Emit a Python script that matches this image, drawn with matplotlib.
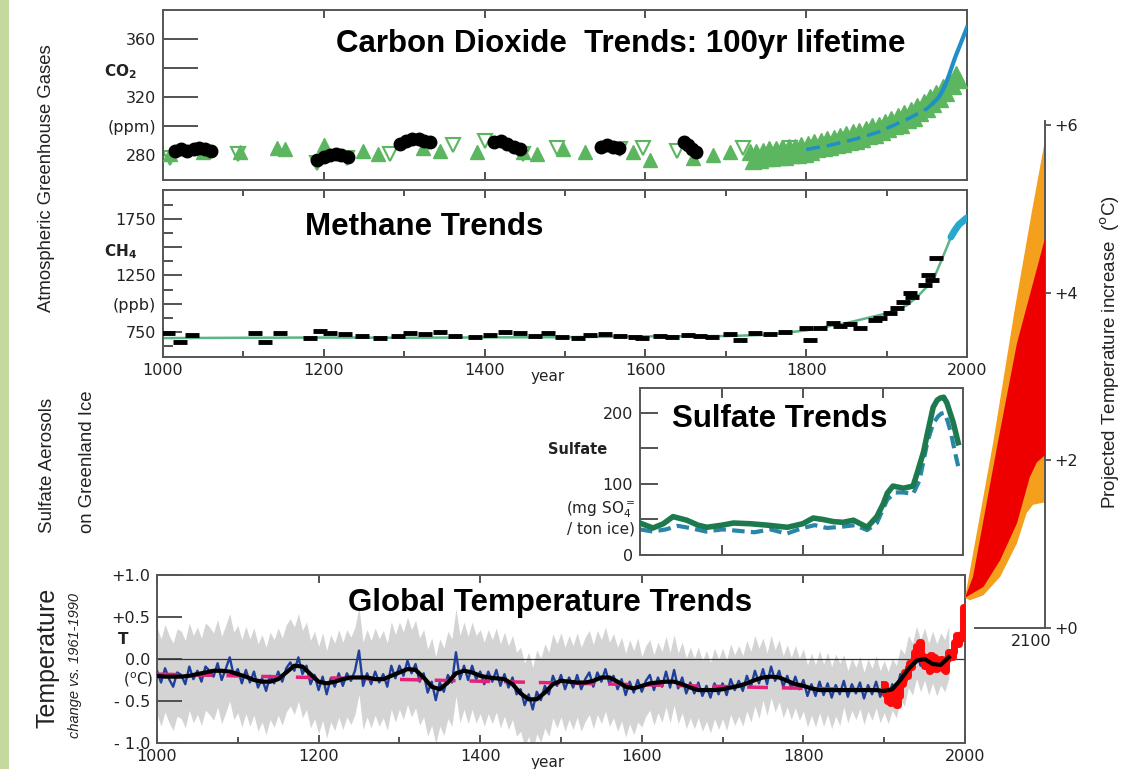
import numpy as np
import matplotlib
matplotlib.use("Agg")
import matplotlib.pyplot as plt
from matplotlib.patches import Rectangle

W, H = 1124, 769

# ---------------- data ----------------
# CO2 (ppm)
co2_tri_years = [1009, 1050, 1096, 1142, 1152, 1200, 1249, 1268, 1324, 1345, 1391, 1448,
                 1465, 1498, 1525, 1585, 1606, 1659, 1684, 1705]
co2_tri_values = [281, 282, 282, 285, 284, 287, 283, 281, 285, 283, 282, 282,
                  281, 284, 282, 282, 277, 278, 280, 282]
co2_open_years = [1009, 1093, 1191, 1229, 1282, 1361, 1400, 1448, 1490, 1568, 1597,
                  1639, 1721, 1780]
co2_open_values = [278, 281, 275, 278, 281, 287, 290, 281, 285, 284, 285,
                   283, 285, 285]
co2_core_years = [1015, 1022, 1030, 1038, 1045, 1052, 1060,
                  1192, 1200, 1208, 1215, 1222, 1230,
                  1295, 1302, 1310, 1318, 1325, 1332,
                  1412, 1420, 1428, 1436, 1444,
                  1545, 1552, 1560, 1567,
                  1648, 1653, 1658, 1663]
co2_core_values = [283, 284, 283, 284, 285, 284, 283,
                   277, 279, 280, 281, 280, 279,
                   288, 290, 291, 291, 290, 289,
                   289, 290, 288, 286, 284,
                   286, 287, 286, 285,
                   289, 287, 284, 282]
co2_band_years = list(range(1730, 1991, 4))
co2_band_values = [282, 276, 282, 277, 283, 278, 284, 278, 284, 279, 285, 279, 286, 280,
                   286, 280, 287, 281, 288, 282, 289, 284, 290, 285, 291, 286, 292, 287,
                   293, 288, 295, 289, 296, 290, 297, 291, 298, 293, 300, 294, 301, 296,
                   303, 298, 305, 300, 307, 301, 309, 304, 311, 306, 314, 309, 317, 312,
                   320, 315, 323, 319, 327, 323, 332, 328, 336, 332]
co2_firn_years = [1800, 1830, 1860, 1890, 1910, 1930, 1950, 1958]
co2_firn_values = [284, 287, 291, 296, 301, 306, 312, 316]
co2_mlo_years = [1958, 1965, 1970, 1975, 1980, 1985, 1990, 1995, 2000]
co2_mlo_values = [316, 320, 325, 331, 339, 347, 354, 361, 368]

# CH4 (ppb)
ch4_core_years = [1006, 1021, 1036, 1114, 1127, 1146, 1183, 1195, 1208, 1226, 1248, 1270,
                  1292, 1307, 1326, 1345, 1363, 1388, 1407, 1425, 1444, 1463, 1479, 1496,
                  1516, 1531, 1550, 1568, 1587, 1596, 1618, 1633, 1653, 1668, 1683, 1705,
                  1718, 1736, 1755, 1774, 1800, 1805, 1817, 1833, 1842, 1855, 1867, 1886,
                  1892, 1904, 1913, 1920, 1929, 1932, 1948, 1952, 1956, 1962]
ch4_core_values = [740, 660, 720, 740, 660, 740, 700, 760, 740, 730, 715, 697,
                   715, 740, 730, 750, 715, 705, 723, 750, 740, 715, 740, 705,
                   697, 723, 730, 715, 705, 697, 715, 705, 723, 715, 705, 730,
                   680, 740, 730, 750, 790, 680, 785, 830, 800, 820, 785, 855,
                   875, 918, 960, 1015, 1095, 1060, 1165, 1255, 1210, 1400]
ch4_fit_years = [1000, 1100, 1200, 1300, 1400, 1500, 1600, 1700, 1750, 1800, 1850, 1900,
                 1925, 1938, 1950, 1958, 1965, 1975, 1983, 1990, 2000]
ch4_fit_values = [697, 700, 702, 700, 703, 705, 712, 715, 725, 765, 830, 915,
                  985, 1060, 1150, 1210, 1330, 1500, 1640, 1700, 1760]
ch4_air_years = [1980, 1985, 1990, 1995, 2000]
ch4_air_values = [1590, 1650, 1700, 1730, 1760]

# Sulfate (mg SO4 / ton ice)
sulf_a_years = [1598, 1614, 1627, 1639, 1656, 1670, 1681, 1700, 1714, 1735, 1756, 1781,
                1800, 1813, 1825, 1838, 1850, 1863, 1880, 1892, 1900, 1905, 1912, 1925,
                1937, 1942, 1950, 1955, 1962, 1967, 1971, 1975, 1979, 1983, 1987, 1993]
sulf_a_values = [45, 38, 44, 54, 49, 42, 39, 42, 45, 44, 42, 39,
                 44, 52, 50, 47, 46, 49, 39, 54, 72, 87, 97, 94,
                 97, 115, 145, 172, 208, 218, 221, 222, 214, 200, 186, 158]
sulf_b_years = [1598, 1614, 1630, 1645, 1660, 1680, 1700, 1720, 1740, 1760, 1780, 1800,
                1815, 1830, 1850, 1865, 1880, 1892, 1905, 1915, 1925, 1937, 1945, 1955,
                1962, 1968, 1972, 1976, 1980, 1984, 1988, 1993]
sulf_b_values = [36, 33, 36, 41, 38, 33, 36, 34, 32, 36, 30, 38,
                 42, 38, 40, 42, 35, 45, 78, 88, 88, 86, 105, 160,
                 185, 195, 199, 200, 188, 172, 150, 125]

# Temperature change vs. 1961-1990 (deg C)
temp_years = np.arange(1000, 1981, 5)
temp_values = [
    -0.14, -0.28, -0.11, -0.24, -0.33, -0.16, -0.19, -0.30, -0.09, -0.24,
    -0.14, -0.27, -0.09, -0.14, -0.21, -0.05, -0.25, -0.12, 0.02, -0.20,
    -0.12, -0.29, -0.13, -0.28, -0.15, -0.34, -0.23, -0.38, -0.20, -0.29,
    -0.15, -0.27, -0.11, -0.04, -0.14, 0.02, -0.18, -0.08, -0.30, -0.19,
    -0.37, -0.21, -0.42, -0.23, -0.33, -0.17, -0.32, -0.17, -0.26, -0.14,
    0.10, -0.32, -0.17, -0.30, -0.15, -0.28, -0.18, -0.33, -0.08, -0.23,
    -0.08, -0.20, -0.02, -0.17, -0.06, -0.27, -0.17, -0.40, -0.27, -0.49,
    -0.28, -0.39, -0.19, -0.28, 0.08, -0.24, -0.08, -0.25, -0.08, -0.24,
    -0.15, -0.30, -0.15, -0.27, -0.13, -0.32, -0.18, -0.34, -0.22, -0.42,
    -0.36, -0.55, -0.42, -0.60, -0.39, -0.49, -0.32, -0.42, -0.20, -0.32,
    -0.19, -0.36, -0.22, -0.34, -0.19, -0.36, -0.24, -0.16, -0.33, -0.16,
    -0.27, -0.12, -0.30, -0.20, -0.36, -0.24, -0.43, -0.27, -0.40, -0.25,
    -0.39, -0.26, -0.19, -0.37, -0.22, -0.33, -0.15, -0.34, -0.13, -0.35,
    -0.22, -0.41, -0.28, -0.41, -0.28, -0.44, -0.32, -0.46, -0.29, -0.42,
    -0.29, -0.43, -0.24, -0.37, -0.26, -0.38, -0.20, -0.33, -0.14, -0.29,
    -0.12, -0.30, -0.09, -0.26, -0.14, -0.33, -0.20, -0.35, -0.21, -0.36,
    -0.25, -0.44, -0.30, -0.44, -0.27, -0.43, -0.29, -0.46, -0.31, -0.42,
    -0.26, -0.45, -0.30, -0.41, -0.28, -0.47, -0.31, -0.42, -0.27, -0.45,
    -0.33, -0.46, -0.30, -0.39, -0.18, -0.25, -0.03, -0.12, 0.08, -0.08,
    0.06, -0.12, 0.02, -0.13, 0.00, -0.08, 0.08]
# uncertainty half-width, constant within each reconstruction period
band_period_start = [1000, 1400, 1600, 1750, 1850]
band_halfwidth = [0.52, 0.50, 0.42, 0.37, 0.31]
smooth_years = np.arange(1000, 1981, 10)
smooth_values = [
    -0.20, -0.21, -0.21, -0.21, -0.20, -0.18, -0.16, -0.14, -0.14, -0.15,
    -0.18, -0.21, -0.25, -0.27, -0.27, -0.24, -0.16, -0.08, -0.09, -0.18,
    -0.27, -0.29, -0.27, -0.24, -0.22, -0.22, -0.22, -0.24, -0.24, -0.20,
    -0.16, -0.12, -0.13, -0.22, -0.33, -0.36, -0.28, -0.17, -0.14, -0.16,
    -0.20, -0.22, -0.23, -0.24, -0.30, -0.41, -0.48, -0.48, -0.40, -0.30,
    -0.26, -0.27, -0.28, -0.28, -0.26, -0.22, -0.22, -0.27, -0.33, -0.35,
    -0.32, -0.29, -0.28, -0.27, -0.27, -0.30, -0.34, -0.37, -0.37, -0.37,
    -0.36, -0.34, -0.32, -0.29, -0.25, -0.22, -0.21, -0.22, -0.26, -0.30,
    -0.32, -0.35, -0.37, -0.37, -0.37, -0.37, -0.37, -0.37, -0.37, -0.37,
    -0.38, -0.36, -0.25, -0.12, -0.02, 0.00, -0.06, -0.07, 0.02]
trend_years = [1000, 1900]
trend_values = [-0.18, -0.37]
instr_years = np.arange(1900, 2001, 2)
instr_values = [-0.30, -0.42, -0.50, -0.38, -0.52, -0.50, -0.46, -0.33, -0.55, -0.44,
                -0.30, -0.30, -0.25, -0.15, -0.20, -0.10, -0.05, -0.10, -0.02, 0.08,
                0.15, 0.10, 0.20, 0.02, -0.02, -0.08, 0.02, -0.10, -0.14, 0.05,
                0.00, 0.02, -0.12, -0.05, -0.08, 0.00, -0.06, -0.12, -0.14, 0.00,
                0.08, 0.05, 0.02, 0.08, 0.20, 0.28, 0.18, 0.24, 0.30, 0.62, 0.48]

# Projected temperature increase to 2100 (deg C above the +0 baseline)
proj_hi_years = [2000, 2035, 2062, 2084, 2100]
proj_hi_values = [0.36, 2.20, 3.79, 4.99, 5.82]
proj_core_hi_years = [2000, 2010, 2041, 2065, 2100]
proj_core_hi_values = [0.36, 0.61, 2.21, 3.40, 4.65]
proj_core_lo_years = [2000, 2023, 2044, 2065, 2081, 2090, 2100]
proj_core_lo_values = [0.36, 0.49, 0.81, 1.25, 1.80, 1.98, 2.06]
proj_lo_years = [2000, 2006, 2023, 2044, 2065, 2077, 2085, 2100]
proj_lo_values = [0.36, 0.33, 0.39, 0.61, 1.01, 1.37, 1.47, 1.50]

# ---------------- style ----------------
GREEN = '#5cb660'
CO2_BLUE = '#1f8fc6'
SPINE = '#555555'
TITLE = dict(family=['Liberation Sans', 'DejaVu Sans'], size=22.5, weight='bold', color='black')
SIDE = ['Liberation Sans Narrow', 'Liberation Sans', 'DejaVu Sans']
TICKFS = 11.5

fig = plt.figure(figsize=(W / 100, H / 100), dpi=100)
fig.patch.set_facecolor('white')
fig.patches.append(Rectangle((0, 0), 9 / W, 1, transform=fig.transFigure,
                             facecolor='#c5d89e', edgecolor='none', zorder=0))


def box(x0, y0, x1, y1):
    return [x0 / W, 1 - y1 / H, (x1 - x0) / W, (y1 - y0) / H]


def ftext(x, y, s, **kw):
    kw.setdefault('color', '#222222')
    return fig.text(x / W, 1 - y / H, s, **kw)


def frame(ax):
    for s in ax.spines.values():
        s.set_color(SPINE)
        s.set_linewidth(1.4)
    ax.tick_params(which='both', direction='in', color='#444444', width=1.3,
                   labelsize=TICKFS, labelcolor='#222222')


# ---- CO2 panel ----
ax1 = fig.add_axes(box(163, 10, 967, 180))
frame(ax1)
ax1.set_xlim(1000, 2000)
ax1.set_ylim(263, 380)
ax1.set_yticks([280, 300, 320, 340, 360])
ax1.set_yticklabels(['280', '(ppm)', '320', '', '360'])
ax1.tick_params(axis='y', length=25, pad=5)
ax1.set_xticks([1200, 1400, 1600, 1800])
ax1.tick_params(axis='x', length=6, top=True, labelbottom=False)
ax1.plot(co2_open_years, co2_open_values, 'v', ms=10, mfc='white', mec=GREEN, mew=1.5, zorder=2)
ax1.plot(co2_tri_years, co2_tri_values, '^', ms=10, color=GREEN, mec=GREEN, zorder=3)
ax1.plot(co2_core_years, co2_core_values, 'o', ms=9, color='black', zorder=4)
ax1.plot(co2_band_years, co2_band_values, '^', ms=11, color=GREEN, mec=GREEN, zorder=3)
ax1.plot(co2_firn_years, co2_firn_values, color=CO2_BLUE, lw=2.5, dashes=(4, 2), zorder=5)
ax1.plot(co2_mlo_years, co2_mlo_values, color=CO2_BLUE, lw=3, zorder=5)
ftext(137, 72, r'$\mathbf{CO_2}$', ha='right', va='center', size=11)
ftext(336, 44, 'Carbon Dioxide  Trends: 100yr lifetime', ha='left', va='center', **TITLE)

# ---- CH4 panel ----
ax2 = fig.add_axes(box(163, 190, 967, 357))
frame(ax2)
ax2.set_xlim(1000, 2000)
ax2.set_ylim(530, 2005)
ax2.set_yticks([750, 1000, 1250, 1500, 1750])
ax2.set_yticklabels(['750', '(ppb)', '1250', '', '1750'])
ax2.set_yticks([625, 875, 1125, 1375, 1625, 1875], minor=True)
ax2.tick_params(axis='y', which='major', length=14, pad=5)
ax2.tick_params(axis='y', which='minor', length=7)
ax2.set_xticks(range(1000, 2001, 200))
ax2.set_xticks(range(1100, 2000, 200), minor=True)
ax2.tick_params(axis='x', which='major', length=6, top=True, pad=4)
ax2.tick_params(axis='x', which='minor', length=4, top=True)
ax2.plot(ch4_fit_years, ch4_fit_values, color='#5bb585', lw=1.8, zorder=2)
ax2.plot(ch4_core_years, ch4_core_values, '_', ms=10, mew=3.5, color='black', zorder=3)
ax2.plot(ch4_air_years, ch4_air_values, color='#29a8cf', lw=5, solid_capstyle='round', zorder=4)
ftext(137, 252, r'$\mathbf{CH_4}$', ha='right', va='center', size=11)
ftext(548, 377, 'year', ha='center', va='center', size=11)
ftext(305, 227, 'Methane Trends', ha='left', va='center', **TITLE)

# ---- Sulfate panel ----
ax3 = fig.add_axes(box(640, 388, 963, 555))
frame(ax3)
ax3.set_xlim(1598, 1999)
ax3.set_ylim(0, 235)
ax3.set_yticks([0, 50, 100, 150, 200])
ax3.set_yticklabels(['0', '', '100', '', '200'])
ax3.tick_params(axis='y', length=13, pad=5)
ax3.set_xticks([1700, 1800, 1900])
ax3.tick_params(axis='x', length=7, top=True, labelbottom=False)
ax3.plot(sulf_b_years, sulf_b_values, color='#2a86a8', lw=3, dashes=(3, 1.5), zorder=2)
ax3.plot(sulf_a_years, sulf_a_values, color='#1d7a4f', lw=4, zorder=3)
ftext(607, 449, 'Sulfate', ha='right', va='center', size=10.5, weight='bold')
ftext(635, 510, r'(mg SO$_4^=$', ha='right', va='center', size=11)
ftext(635, 529, '/ ton ice)', ha='right', va='center', size=11)
ftext(672, 419, 'Sulfate Trends', ha='left', va='center', **TITLE)

# ---- Temperature panel ----
ax4 = fig.add_axes(box(157, 575, 965, 743))
frame(ax4)
ax4.set_xlim(1000, 2000)
ax4.set_ylim(-1, 1)
ax4.set_yticks([-1, -0.5, 0, 0.5, 1])
ax4.set_yticklabels(['- 1.0', '- 0.5', '0.0', '+0.5', '+1.0'])
ax4.tick_params(axis='y', length=18, pad=5)
ax4.set_xticks(range(1000, 2001, 200))
ax4.set_xticks(range(1100, 2000, 200), minor=True)
ax4.tick_params(axis='x', which='major', length=6, top=True, pad=4)
ax4.tick_params(axis='x', which='minor', length=4)
tv = np.array(temp_values)
hw = np.array(band_halfwidth)[np.searchsorted(band_period_start, temp_years, side='right') - 1]
ax4.fill_between(temp_years, tv - hw, tv + hw, color='#d4d4d4', lw=0, zorder=1)
ax4.axhline(0, color='#333333', lw=0.9, zorder=2)
ax4.plot(temp_years, tv, color='#1f3f9a', lw=1.7, zorder=3)
ax4.plot(instr_years, instr_values, color='#ff0a0a', lw=5, drawstyle='steps-mid', zorder=4)
ax4.plot(trend_years, trend_values, color='#e3207b', lw=2.5, dashes=(6, 4), zorder=5)
ax4.plot(smooth_years, smooth_values, color='black', lw=3, zorder=6)
ftext(123, 640, 'T', ha='center', va='center', size=11, weight='bold')
ftext(153, 680, r'($^{\rm o}$C)', ha='right', va='center', size=11)
ftext(548, 762, 'year', ha='center', va='center', size=11)
ftext(348, 603, 'Global Temperature Trends', ha='left', va='center', **TITLE)

# ---- projection to 2100 ----
ax5 = fig.add_axes(box(965, 121, 1045, 628))
ax5.patch.set_alpha(0)
ax5.set_xlim(2000, 2100)
ax5.set_ylim(0, 6.05)
for s in ['left', 'top']:
    ax5.spines[s].set_visible(False)
for s in ['right', 'bottom']:
    ax5.spines[s].set_color(SPINE)
    ax5.spines[s].set_linewidth(1.4)
ax5.spines['bottom'].set_bounds(2012, 2100)
ax5.yaxis.tick_right()
ax5.set_yticks([0, 2, 4, 6])
ax5.set_yticklabels(['+0', '+2', '+4', '+6'])
ax5.tick_params(axis='y', direction='out', length=4, width=1.2, color='#444444',
                labelsize=TICKFS, labelcolor='#222222', pad=3)
ax5.set_xticks([])
ax5.fill(np.r_[proj_hi_years, proj_lo_years[::-1]], np.r_[proj_hi_values, proj_lo_values[::-1]],
         color='#f5a01c', lw=0, zorder=2)
ax5.fill(np.r_[proj_core_hi_years, proj_core_lo_years[::-1]],
         np.r_[proj_core_hi_values, proj_core_lo_values[::-1]],
         color='#ee0000', lw=0, zorder=3)
ftext(1031, 641, '2100', ha='center', va='center', size=TICKFS)

# ---- side labels ----
ftext(47, 178, 'Atmospheric Greenhouse Gases', rotation=90, ha='center', va='center',
      family=SIDE, size=13.3)
ftext(47, 465, 'Sulfate Aerosols', rotation=90, ha='center', va='center', family=SIDE, size=13.5)
ftext(87, 462, 'on Greenland Ice', rotation=90, ha='center', va='center', family=SIDE, size=13.4)
ftext(47, 658, 'Temperature', rotation=90, ha='center', va='center', family=SIDE, size=18)
ftext(75, 665, 'change vs. 1961-1990', rotation=90, ha='center', va='center', family=SIDE,
      size=10.5, style='italic')
ftext(1110, 352, r'Projected Temperature increase  ($^{\rm o}$C)', rotation=90, ha='center',
      va='center', family=SIDE, size=13.5)

fig.savefig('out.png', dpi=100, facecolor='white')
